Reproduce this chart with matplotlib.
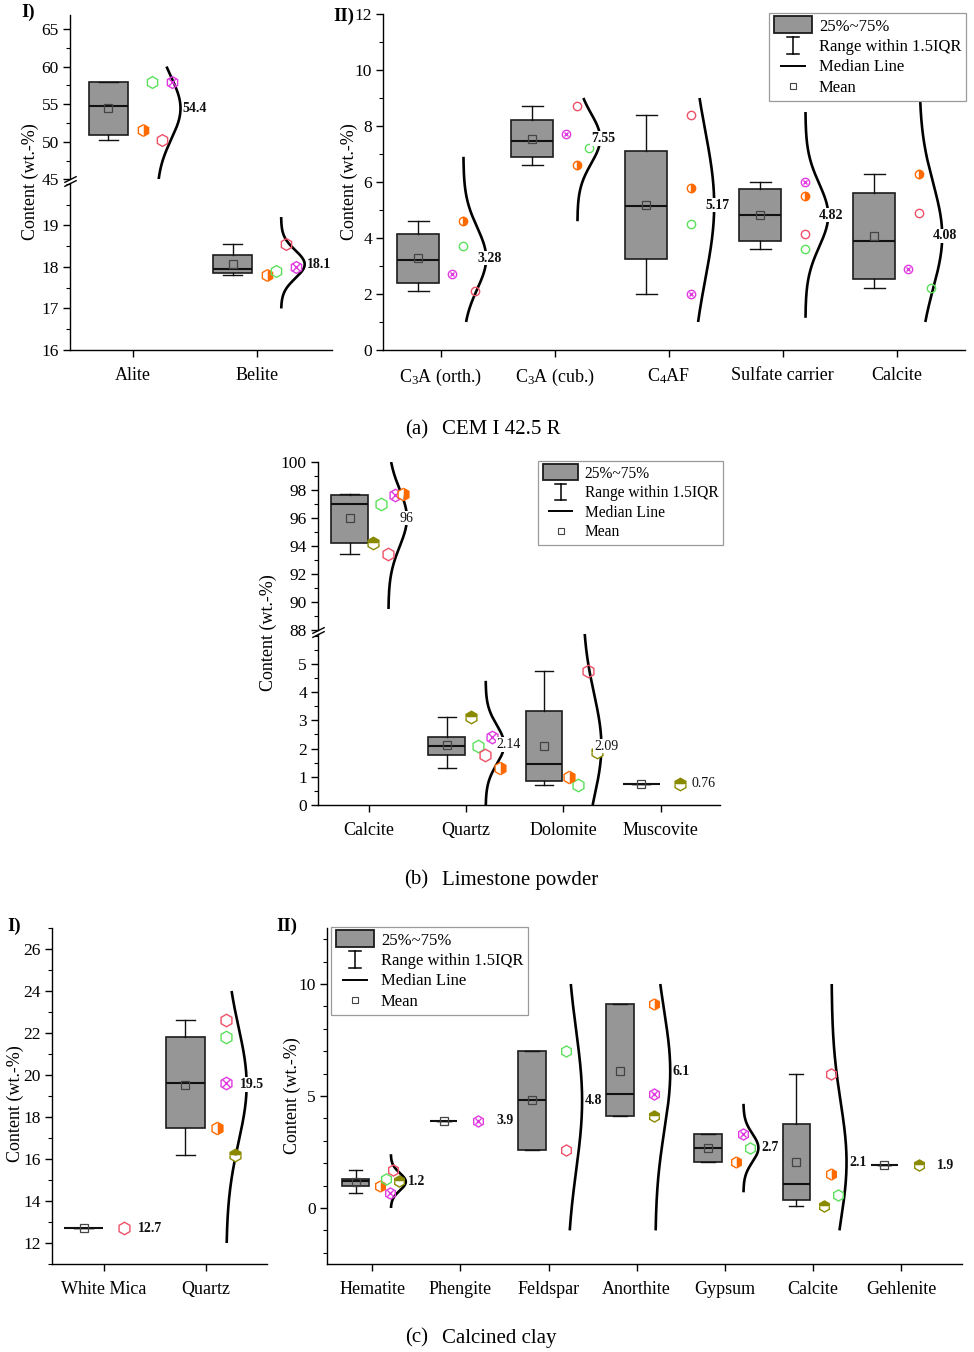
import numpy as np
import matplotlib
matplotlib.use("Agg")
import matplotlib.pyplot as plt
from matplotlib.legend_handler import HandlerBase
from matplotlib.lines import Line2D
from matplotlib.patches import Rectangle
from matplotlib.ticker import MultipleLocator

plt.rcParams['font.family'] = ['Liberation Serif', 'DejaVu Serif']
plt.rcParams['mathtext.fontset'] = 'custom'
plt.rcParams['mathtext.rm'] = 'Liberation Serif'
plt.rcParams['mathtext.it'] = 'Liberation Serif:italic'
plt.rcParams['mathtext.bf'] = 'Liberation Serif:bold'

nan = np.nan

# ---------------- data ----------------
# (a) CEM I 42.5 R, part I
a1_categories = ["Alite", "Belite"]
a1_orange = [51.6, 17.80]
a1_green = [58.0, 17.90]
a1_red = [50.2, 18.55]
a1_magenta = [58.0, 18.00]
a1_labels = ["54.4", "18.1"]
a1_curve_lo = [45.0, 17.0]
a1_curve_hi = [60.0, 19.2]
a1_orange_dx = [0.075, 0.075]
a1_green_dx = [0.15, 0.15]
a1_red_dx = [0.23, 0.23]
a1_magenta_dx = [0.31, 0.31]

# (a) part II
a2_categories = ["C$_3$A (orth.)", "C$_3$A (cub.)", "C$_4$AF", "Sulfate carrier", "Calcite"]
a2_orange = [4.6, 6.6, 5.8, 5.5, 6.3]
a2_green = [3.7, 7.2, 4.5, 3.6, 2.2]
a2_red = [2.1, 8.7, 8.4, 4.15, 4.9]
a2_magenta = [2.7, 7.7, 2.0, 6.0, 2.9]
a2_labels = ["3.28", "7.55", "5.17", "4.82", "4.08"]
a2_curve_lo = [1.0, 4.6, 1.0, 1.15, 1.0]
a2_curve_hi = [6.9, 9.0, 9.0, 8.5, 9.0]
a2_orange_dx = [0.2, 0.2, 0.2, 0.2, 0.2]
a2_green_dx = [0.2, 0.3, 0.2, 0.2, 0.3]
a2_red_dx = [0.3, 0.2, 0.2, 0.2, 0.2]
a2_magenta_dx = [0.1, 0.1, 0.2, 0.2, 0.1]

# (b) Limestone powder
b_categories = ["Calcite", "Quartz", "Dolomite", "Muscovite"]
b_olive = [94.2, 3.13, 1.89, 0.76]
b_green = [97.0, 2.10, 0.71, nan]
b_red = [93.4, 1.77, 4.76, nan]
b_magenta = [97.65, 2.40, nan, nan]
b_orange = [97.75, 1.30, 1.00, nan]
b_labels = ["96", "2.14", "2.09", "0.76"]
b_curve_lo = [89.5, 0.0, 0.0, nan]
b_curve_hi = [100.0, 4.4, 6.5, nan]
b_olive_dx = [0.045, 0.045, 0.34, 0.2]
b_green_dx = [0.12, 0.12, 0.15, 0.2]
b_red_dx = [0.195, 0.195, 0.25, 0.2]
b_magenta_dx = [0.27, 0.27, 0.2, 0.2]
b_orange_dx = [0.35, 0.35, 0.06, 0.2]

# (c) Calcined clay, part I
c1_categories = ["White Mica", "Quartz"]
c1_red = [12.7, 22.6]
c1_green = [nan, 21.8]
c1_magenta = [nan, 19.6]
c1_orange = [nan, 17.5]
c1_olive = [nan, 16.2]
c1_labels = ["12.7", "19.5"]
c1_curve_lo = [nan, 12.0]
c1_curve_hi = [nan, 24.0]
c1_red_dx = [0.2, 0.2]
c1_green_dx = [0.2, 0.2]
c1_magenta_dx = [0.2, 0.2]
c1_orange_dx = [0.2, 0.11]
c1_olive_dx = [0.2, 0.29]

# (c) part II
c2_categories = ["Hematite", "Phengite", "Feldspar", "Anorthite", "Gypsum", "Calcite", "Gehlenite"]
c2_orange = [1.0, nan, nan, 9.1, 2.05, 1.5, nan]
c2_green = [1.3, nan, 7.0, nan, 2.7, 0.6, nan]
c2_red = [1.7, nan, 2.6, nan, nan, 6.0, nan]
c2_magenta = [0.65, 3.9, nan, 5.1, 3.3, nan, nan]
c2_olive = [1.2, nan, nan, 4.1, nan, 0.1, 1.9]
c2_labels = ["1.2", "3.9", "4.8", "6.1", "2.7", "2.1", "1.9"]
c2_curve_lo = [0.0, nan, -1.0, -1.0, 0.7, -1.0, nan]
c2_curve_hi = [2.4, nan, 10.0, 10.0, 4.65, 10.0, nan]
c2_orange_dx = [0.086, 0.2, 0.2, 0.2, 0.13, 0.2, 0.2]
c2_green_dx = [0.16, 0.2, 0.2, 0.2, 0.28, 0.28, 0.2]
c2_red_dx = [0.24, 0.2, 0.2, 0.2, 0.2, 0.2, 0.2]
c2_magenta_dx = [0.2, 0.2, 0.2, 0.2, 0.2, 0.2, 0.2]
c2_olive_dx = [0.3, 0.2, 0.2, 0.2, 0.2, 0.13, 0.2]

legend_labels = ["25%~75%", "Range within 1.5IQR", "Median Line", "Mean"]

# ---------------- styles ----------------
ORANGE = '#FF6A00'
GREEN = '#5CE05C'
RED = '#EE5068'
MAGENTA = '#E03AE0'
OLIVE = '#8A8A00'
BOX_FC = '#969696'
BOX_EC = '#1c1c1c'

W_PX, H_PX = 974, 1352
fig = plt.figure(figsize=(W_PX / 100, H_PX / 100), dpi=100)


def add_ax(x0, y0, x1, y1):
    return fig.add_axes([x0 / W_PX, 1 - y1 / H_PX, (x1 - x0) / W_PX, (y1 - y0) / H_PX])


def style_ax(ax, bottom=True, major=None, minor=None):
    for s in ['top', 'right']:
        ax.spines[s].set_visible(False)
    ax.spines['left'].set_linewidth(1.0)
    if bottom:
        ax.spines['bottom'].set_linewidth(1.0)
    else:
        ax.spines['bottom'].set_visible(False)
        ax.tick_params(axis='x', bottom=False, labelbottom=False)
    ax.tick_params(axis='both', which='major', direction='out', length=5, width=1.0,
                   labelsize=12.5, pad=3)
    ax.tick_params(axis='x', which='major', labelsize=13, pad=7)
    ax.tick_params(axis='y', which='minor', direction='out', length=3, width=0.8)
    if major is not None:
        ax.yaxis.set_major_locator(MultipleLocator(major))
    if minor is not None:
        ax.yaxis.set_minor_locator(MultipleLocator(minor))
    ax.patch.set_alpha(0)


def draw_points(ax, x, y, kind, mk, ms):
    common = dict(linestyle='none', marker=mk, markersize=ms, markeredgewidth=1.0, zorder=5)
    if kind == 'orange':
        ax.plot(x, y, fillstyle='right', markerfacecolor=ORANGE, markerfacecoloralt='white',
                markeredgecolor=ORANGE, **common)
    elif kind == 'olive':
        ax.plot(x, y, fillstyle='top', markerfacecolor=OLIVE, markerfacecoloralt='white',
                markeredgecolor=OLIVE, **common)
    elif kind == 'green':
        ax.plot(x, y, markerfacecolor='none', markeredgecolor=GREEN, **common)
    elif kind == 'red':
        ax.plot(x, y, markerfacecolor='none', markeredgecolor=RED, **common)
    elif kind == 'magenta':
        ax.plot(x, y, markerfacecolor='none', markeredgecolor=MAGENTA, **common)
        ax.plot(x, y, linestyle='none', marker='x', markersize=ms * 0.6, markeredgewidth=1.0,
                markeredgecolor=MAGENTA, zorder=5)


def draw_group(axes, n, series, labels, curve_lo, curve_hi, box_off, box_w, curve_base,
               curve_w, label_dx, label_bold, mk, ms):
    pos = np.arange(1, n + 1)
    for i in range(n):
        vals = np.array([s[0][i] for s in series if not np.isnan(s[0][i])])
        q1, med, q3 = np.percentile(vals, [25, 50, 75], method='averaged_inverted_cdf')
        iqr = q3 - q1
        whislo = vals[vals >= q1 - 1.5 * iqr].min()
        whishi = vals[vals <= q3 + 1.5 * iqr].max()
        mean = vals.mean()
        stats = [dict(med=med, q1=q1, q3=q3, whislo=whislo, whishi=whishi, mean=mean, fliers=[])]
        for ax in axes:
            ax.bxp(stats, positions=[pos[i] + box_off], widths=[box_w], patch_artist=True,
                   showmeans=True, showfliers=False, manage_ticks=False,
                   boxprops=dict(facecolor=BOX_FC, edgecolor=BOX_EC, linewidth=1.2),
                   medianprops=dict(color='#111111', linewidth=1.5),
                   whiskerprops=dict(color='#111111', linewidth=1.0),
                   capprops=dict(color='#111111', linewidth=1.0),
                   meanprops=dict(marker='s', markerfacecolor='none', markeredgecolor='#444444',
                                  markersize=6, markeredgewidth=0.9))
            if len(vals) >= 2 and not np.isnan(curve_lo[i]):
                sd = vals.std(ddof=1)
                yy = np.linspace(curve_lo[i], curve_hi[i], 300)
                xx = pos[i] + curve_base + curve_w * np.exp(-0.5 * ((yy - mean) / sd) ** 2)
                ax.plot(xx, yy, color='black', lw=1.9, zorder=3, solid_capstyle='butt')
            for vals_s, dx_s, kind in series:
                v = vals_s[i]
                if not np.isnan(v):
                    draw_points(ax, [pos[i] + dx_s[i]], [v], kind, mk, ms)
            y0, y1 = ax.get_ylim()
            if y0 <= mean <= y1:
                ax.text(pos[i] + label_dx, mean, labels[i], ha='left', va='center', fontsize=10,
                        fontweight='bold' if label_bold else 'normal', color='#111111',
                        zorder=6, bbox=dict(boxstyle='square,pad=0.05', fc='white', ec='none'))


def break_marks(upper, lower):
    kw = dict(marker=[(-1, -0.5), (1, 0.5)], markersize=9, linestyle='none', color='k',
              mec='k', mew=1.0, clip_on=False)
    upper.plot([0], [0], transform=upper.transAxes, **kw)
    lower.plot([0], [1], transform=lower.transAxes, **kw)


class LegendKind:
    def __init__(self, kind):
        self.kind = kind


class LegendKindHandler(HandlerBase):
    def create_artists(self, legend, orig_handle, xdescent, ydescent, width, height,
                       fontsize, trans):
        k = orig_handle.kind
        x0, y0 = -xdescent, -ydescent
        cx, cy = x0 + width / 2, y0 + height / 2
        if k == 'box':
            return [Rectangle((x0, cy - 0.62 * height), width, 1.24 * height, facecolor=BOX_FC,
                              edgecolor=BOX_EC, lw=1.3, transform=trans)]
        if k == 'whisker':
            h = 0.62 * height
            c = 0.16 * width
            return [Line2D([cx, cx], [cy - h, cy + h], color='k', lw=1.1, transform=trans),
                    Line2D([cx - c, cx + c], [cy + h, cy + h], color='k', lw=1.1, transform=trans),
                    Line2D([cx - c, cx + c], [cy - h, cy - h], color='k', lw=1.1, transform=trans)]
        if k == 'median':
            return [Line2D([cx - 0.32 * width, cx + 0.32 * width], [cy, cy], color='k', lw=1.4,
                           transform=trans)]
        return [Line2D([cx], [cy], marker='s', markersize=5, markerfacecolor='none',
                       markeredgecolor='#444444', markeredgewidth=0.8, linestyle='none',
                       transform=trans)]


def add_legend(ax, x_px, y_px, fs):
    handles = [LegendKind('box'), LegendKind('whisker'), LegendKind('median'), LegendKind('mean')]
    leg = ax.legend(handles, legend_labels, handler_map={LegendKind: LegendKindHandler()},
                    loc='upper left', bbox_to_anchor=(x_px / W_PX, 1 - y_px / H_PX),
                    bbox_transform=fig.transFigure, borderaxespad=0, fontsize=fs,
                    handlelength=2.3, handleheight=0.9, handletextpad=0.4, labelspacing=0.22,
                    borderpad=0.3, fancybox=False, framealpha=1, edgecolor='#9a9a9a')
    leg.get_frame().set_linewidth(0.9)
    leg.set_zorder(10)
    return leg


def ylabel(x_px, y_px):
    fig.text(x_px / W_PX, 1 - y_px / H_PX, "Content (wt.-%)", rotation=90, ha='center',
             va='center', fontsize=13)


def panel_label(x_px, y_px, s):
    fig.text(x_px / W_PX, 1 - y_px / H_PX, s, ha='left', va='center', fontsize=13.5,
             fontweight='bold')


def caption(y_px, tag, s):
    fig.text(428 / W_PX, 1 - y_px / H_PX, tag, ha='right', va='center', fontsize=15)
    fig.text(442 / W_PX, 1 - y_px / H_PX, s, ha='left', va='center', fontsize=15)


# ---------------- (a) part I ----------------
a1_up = add_ax(70, 15, 332, 179.3)
a1_lo = add_ax(70, 183.4, 332, 350)
for ax in (a1_up, a1_lo):
    ax.set_xlim(0.49, 2.6)
a1_up.set_ylim(45, 66.86)
a1_lo.set_ylim(16, 20.01)
style_ax(a1_up, bottom=False, major=5, minor=2.5)
style_ax(a1_lo, bottom=True, major=1, minor=0.5)
a1_lo.set_yticks([16, 17, 18, 19])
a1_lo.set_xticks([1, 2])
a1_lo.set_xticklabels(a1_categories)
draw_group([a1_up, a1_lo], 2,
           [(a1_orange, a1_orange_dx, 'orange'), (a1_green, a1_green_dx, 'green'),
            (a1_red, a1_red_dx, 'red'), (a1_magenta, a1_magenta_dx, 'magenta')],
           a1_labels, a1_curve_lo, a1_curve_hi, box_off=-0.2, box_w=0.31, curve_base=0.19,
           curve_w=0.19, label_dx=0.395, label_bold=True, mk='h', ms=8.5)
break_marks(a1_up, a1_lo)
ylabel(30, 182)
panel_label(21, 12, "I)")

# ---------------- (a) part II ----------------
a2 = add_ax(383, 14, 965, 350)
a2.set_xlim(0.495, 5.6)
a2.set_ylim(0, 12)
style_ax(a2, major=2, minor=1)
a2.set_xticks(np.arange(1, 6))
a2.set_xticklabels(a2_categories)
draw_group([a2], 5,
           [(a2_orange, a2_orange_dx, 'orange'), (a2_green, a2_green_dx, 'green'),
            (a2_red, a2_red_dx, 'red'), (a2_magenta, a2_magenta_dx, 'magenta')],
           a2_labels, a2_curve_lo, a2_curve_hi, box_off=-0.195, box_w=0.37, curve_base=0.2,
           curve_w=0.2, label_dx=0.32, label_bold=True, mk='o', ms=6)
add_legend(a2, 769, 13, 12)
ylabel(349, 182)
panel_label(333, 16, "II)")

caption(430, "(a)", "CEM I 42.5 R")

# ---------------- (b) ----------------
b_up = add_ax(318, 462, 720, 630)
b_lo = add_ax(318, 634, 720, 805)
for ax in (b_up, b_lo):
    ax.set_xlim(0.476, 4.61)
b_up.set_ylim(88, 100)
b_lo.set_ylim(0, 6.06)
style_ax(b_up, bottom=False, major=2, minor=1)
style_ax(b_lo, bottom=True, major=1, minor=0.5)
b_lo.set_yticks([0, 1, 2, 3, 4, 5])
b_lo.set_xticks(np.arange(1, 5))
b_lo.set_xticklabels(b_categories)
draw_group([b_up, b_lo], 4,
           [(b_olive, b_olive_dx, 'olive'), (b_green, b_green_dx, 'green'),
            (b_red, b_red_dx, 'red'), (b_magenta, b_magenta_dx, 'magenta'),
            (b_orange, b_orange_dx, 'orange')],
           b_labels, b_curve_lo, b_curve_hi, box_off=-0.2, box_w=0.38, curve_base=0.2,
           curve_w=0.19, label_dx=0.315, label_bold=False, mk='h', ms=9)
break_marks(b_up, b_lo)
add_legend(b_up, 538, 461, 11.2)
ylabel(268, 633)

caption(880, "(b)", "Limestone powder")

# ---------------- (c) part I ----------------
c1 = add_ax(52, 928, 267, 1264)
c1.set_xlim(0.49, 2.6)
c1.set_ylim(11, 27)
style_ax(c1, major=2, minor=1)
c1.set_yticks(np.arange(12, 27, 2))
c1.set_xticks([1, 2])
c1.set_xticklabels(c1_categories)
draw_group([c1], 2,
           [(c1_red, c1_red_dx, 'red'), (c1_green, c1_green_dx, 'green'),
            (c1_magenta, c1_magenta_dx, 'magenta'), (c1_orange, c1_orange_dx, 'orange'),
            (c1_olive, c1_olive_dx, 'olive')],
           c1_labels, c1_curve_lo, c1_curve_hi, box_off=-0.2, box_w=0.38, curve_base=0.2,
           curve_w=0.2, label_dx=0.33, label_bold=True, mk='h', ms=9)
ylabel(15, 1104)
panel_label(7, 926, "I)")

# ---------------- (c) part II ----------------
c2 = add_ax(327, 928, 962, 1264)
c2.set_xlim(0.486, 7.69)
c2.set_ylim(-2.5, 12.5)
style_ax(c2, major=5, minor=1)
c2.set_yticks([0, 5, 10])
c2.set_xticks(np.arange(1, 8))
c2.set_xticklabels(c2_categories)
draw_group([c2], 7,
           [(c2_orange, c2_orange_dx, 'orange'), (c2_green, c2_green_dx, 'green'),
            (c2_red, c2_red_dx, 'red'), (c2_magenta, c2_magenta_dx, 'magenta'),
            (c2_olive, c2_olive_dx, 'olive')],
           c2_labels, c2_curve_lo, c2_curve_hi, box_off=-0.19, box_w=0.31, curve_base=0.21,
           curve_w=0.17, label_dx=0.41, label_bold=True, mk='h', ms=8)
add_legend(c2, 331, 927, 12)
ylabel(292, 1096)
panel_label(276, 926, "II)")

caption(1338, "(c)", "Calcined clay")

fig.savefig("out.png", dpi=100)
